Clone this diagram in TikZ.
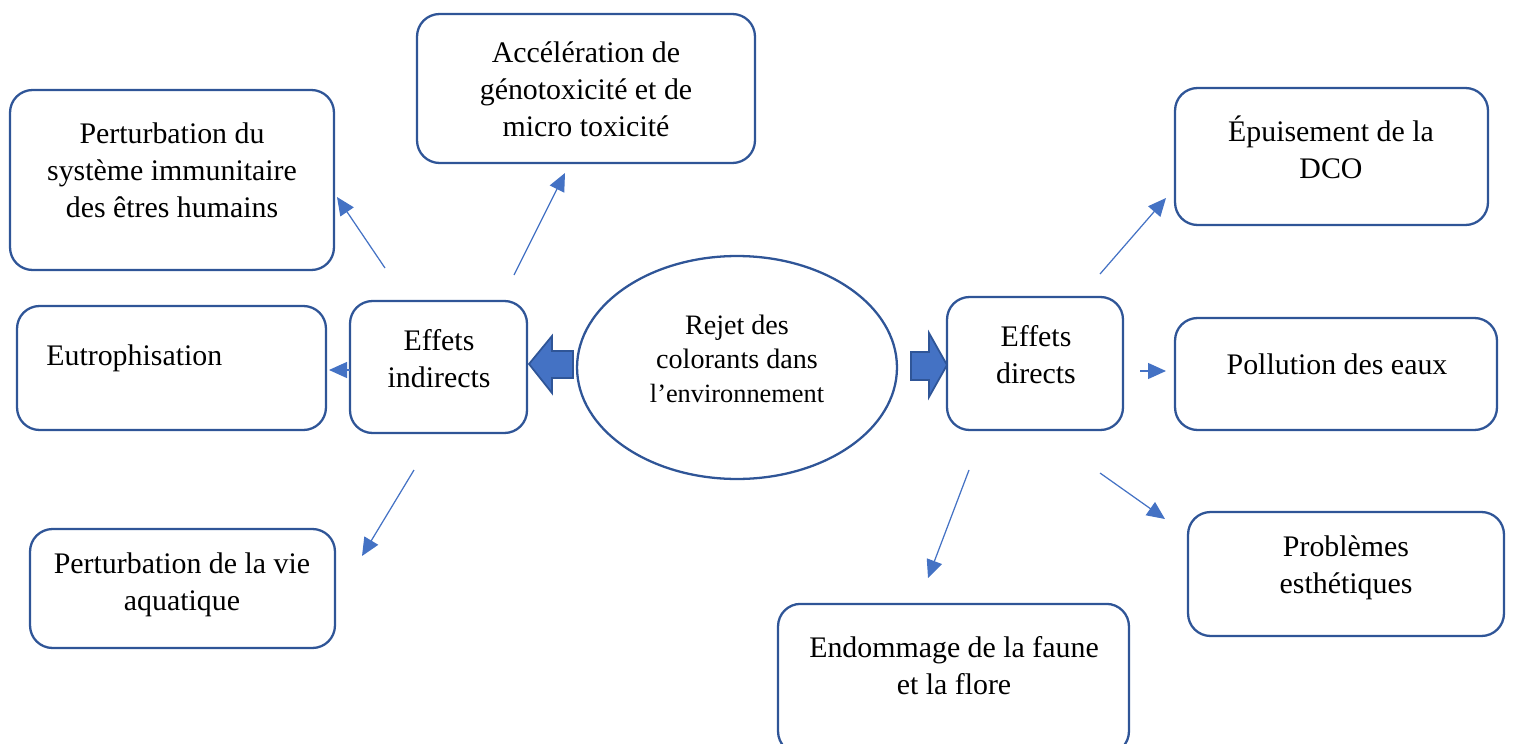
\documentclass[tikz,border=0pt]{standalone}
\usepackage{fontspec}
\setmainfont{Liberation Serif}
\usetikzlibrary{arrows.meta,shapes.geometric}
\definecolor{bordbleu}{HTML}{2F5597}
\definecolor{flechebleu}{HTML}{4472C4}

\begin{document}
\begin{tikzpicture}[x=0.02cm, y=-0.02cm,
    boite/.style={draw=bordbleu, line width=1.3pt, rounded corners=0.45cm},
    texte/.style={align=center, inner sep=0pt, font=\fontsize{17}{21}\selectfont},
    fleche/.style={draw=flechebleu, line width=0.7pt, -{Triangle[length=0.36cm,width=0.32cm]}},
    grosse/.style={draw=bordbleu, fill=flechebleu, line width=1pt, line join=miter}]
    \useasboundingbox (0,0) rectangle (1513,743);

    % cadres
    \node[ellipse, draw=bordbleu, line width=1.3pt, minimum width=6.4cm, minimum height=4.46cm] (rejet) at (737,367.5) {};
    \node[boite, minimum width=3.54cm, minimum height=2.64cm] (indir) at (438.5,367) {};
    \node[boite, minimum width=3.52cm, minimum height=2.66cm] (direct) at (1035,363.5) {};
    \node[boite, minimum width=6.76cm, minimum height=2.98cm] (acc) at (586,88.5) {};
    \node[boite, minimum width=6.48cm, minimum height=3.6cm] (immu) at (172,180) {};
    \node[boite, minimum width=6.18cm, minimum height=2.48cm] (eutro) at (171.5,368) {};
    \node[boite, minimum width=6.1cm, minimum height=2.38cm] (vie) at (182.5,588.5) {};
    \node[boite, minimum width=6.26cm, minimum height=2.74cm] (epuis) at (1331.5,156.5) {};
    \node[boite, minimum width=6.44cm, minimum height=2.24cm] (pollu) at (1336,374) {};
    \node[boite, minimum width=6.32cm, minimum height=2.48cm] (esth) at (1346,574) {};
    \node[boite, minimum width=7.02cm, minimum height=3.0cm] (endo) at (953.5,755) [anchor=south] {};

    % textes
    \node[texte, font=\fontsize{16}{19.5}\selectfont] (rejetT) at (737,359) {Rejet des\\colorants dans\\{\fontsize{15}{19.5}\selectfont l’environnement}};
    \node[texte] (indirT) at (439,358.5) {Effets\\indirects};
    \node[texte] (directT) at (1036,355) {Effets\\directs};
    \node[texte] (accT) at (586,89) {Accélération de\\génotoxicité et de\\micro toxicité};
    \node[texte] (immuT) at (172,170) {Perturbation du\\système immunitaire\\des êtres humains};
    \node[texte, anchor=west] (eutroT) at (46,358) {Eutrophisation};
    \node[texte] (vieT) at (182,585) {Perturbation de la vie\\aquatique};
    \node[texte] (epuisT) at (1331,147.5) {Épuisement de la\\DCO};
    \node[texte] (polluT) at (1337,364) {Pollution des eaux};
    \node[texte] (esthT) at (1346,567.5) {Problèmes\\esthétiques};
    \node[texte] (endoT) at (954,666) {Endommage de la faune\\et la flore};

    % grosses fleches
    \draw[grosse] (573,351) -- (552,351) -- (552,336) -- (529,364) -- (552,393) -- (552,378) -- (573,378) -- cycle;
    \draw[grosse] (911,352) -- (929,352) -- (929,333) -- (947,365) -- (929,397) -- (929,380) -- (911,380) -- cycle;

    % fleches fines
    \coordinate (d1) at (385,268);  \coordinate (f1) at (337,197);
    \coordinate (d2) at (350,370);  \coordinate (f2) at (329,370);
    \coordinate (d3) at (514,275);  \coordinate (f3) at (565,173);
    \coordinate (d4) at (414,470);  \coordinate (f4) at (362,556);
    \coordinate (d5) at (1100,274); \coordinate (f5) at (1166,198);
    \coordinate (d6) at (1140,371); \coordinate (f6) at (1166,371);
    \coordinate (d7) at (1100,473); \coordinate (f7) at (1165,519);
    \coordinate (d8) at (969,470);  \coordinate (f8) at (928,578);
    \draw[fleche] (d1) -- (f1);
    \draw[fleche] (d2) -- (f2);
    \draw[fleche] (d3) -- (f3);
    \draw[fleche] (d4) -- (f4);
    \draw[fleche] (d5) -- (f5);
    \draw[fleche] (d6) -- (f6);
    \draw[fleche] (d7) -- (f7);
    \draw[fleche] (d8) -- (f8);
\end{tikzpicture}
\end{document}
